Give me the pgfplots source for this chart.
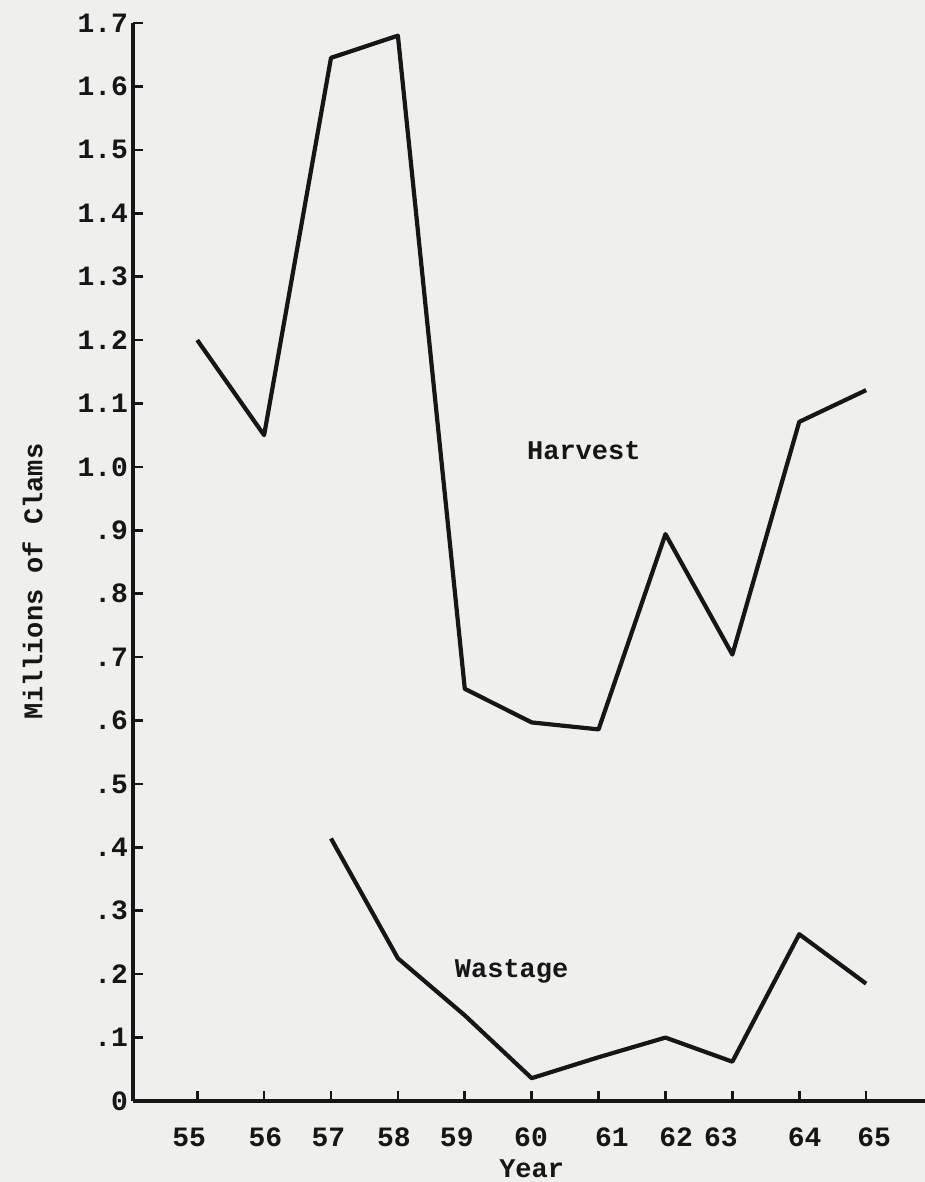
\documentclass[border=0pt]{standalone}
\usepackage{pgfplots}
\pgfplotsset{compat=1.18}
\usepackage{fontspec}
\setmainfont{Liberation Mono}
\definecolor{paper}{RGB}{239,239,237}
\definecolor{ink}{RGB}{22,22,22}
\pgfplotstableread{
year value
55 1.20
56 1.05
57 1.645
58 1.68
59 0.65
60 0.597
61 0.586
62 0.894
63 0.704
64 1.071
65 1.121
}\harvest
\pgfplotstableread{
year value
57 0.414
58 0.225
59 0.135
60 0.036
61 0.069
62 0.100
63 0.062
64 0.263
65 0.185
}\wastage
\begin{document}
\begin{tikzpicture}[x=1pt,y=1pt]
\fill[paper] (0,0) rectangle (462.5,591);
\begin{axis}[
  at={(66.5pt,40.5pt)}, anchor=south west,
  scale only axis, width=396pt, height=539pt,
  xmin=54.04, xmax=65.88, ymin=0, ymax=1.7,
  axis lines=left,
  axis line style={-, line width=1.8pt, draw=ink},
  tick align=inside,
  major tick length=5pt, minor tick length=5pt,
  tick style={line width=1.3pt, draw=ink},
  every major x tick/.append style={draw=none},
  xtick={54.88,56.02,56.96,57.94,58.88,59.99,61.2,62.16,62.83,64.08,65.12},
  xticklabels={55,56,57,58,59,60,61,62,63,64,65},
  minor xtick={55,56,57,58,59,60,61,62,63,64,65},
  ytick={0,0.1,0.2,0.3,0.4,0.5,0.6,0.7,0.8,0.9,1.0,1.1,1.2,1.3,1.4,1.5,1.6,1.7},
  yticklabels={0,.1,.2,.3,.4,.5,.6,.7,.8,.9,1.0,1.1,1.2,1.3,1.4,1.5,1.6,1.7},
  tick label style={font=\bfseries\fontsize{14}{16}\selectfont, text=ink},
  yticklabel style={xshift=1pt},
  xticklabel style={yshift=-10pt},
  xlabel={Year},
  ylabel={Millions of Clams},
  label style={font=\bfseries\fontsize{13.5}{16}\selectfont, text=ink},
  xlabel style={at={(axis cs:60,0)}, anchor=center, yshift=-34pt},
  ylabel style={at={(axis description cs:-0.127,0.482)}, anchor=center, rotate=0},
  clip=false,
]
\addplot[line width=2.1pt, draw=ink, line join=round] table[x=year,y=value]{\harvest};
\addplot[line width=2.1pt, draw=ink, line join=round] table[x=year,y=value]{\wastage};
\node[font=\bfseries\fontsize{13.5}{16}\selectfont, text=ink] at (axis cs:60.78,1.025) {Harvest};
\node[font=\bfseries\fontsize{13.5}{16}\selectfont, text=ink] at (axis cs:59.7,0.205) {Wastage};
\end{axis}
\pgfresetboundingbox
\path[use as bounding box] (0,0) rectangle (462.5,591);
\end{tikzpicture}
\end{document}
